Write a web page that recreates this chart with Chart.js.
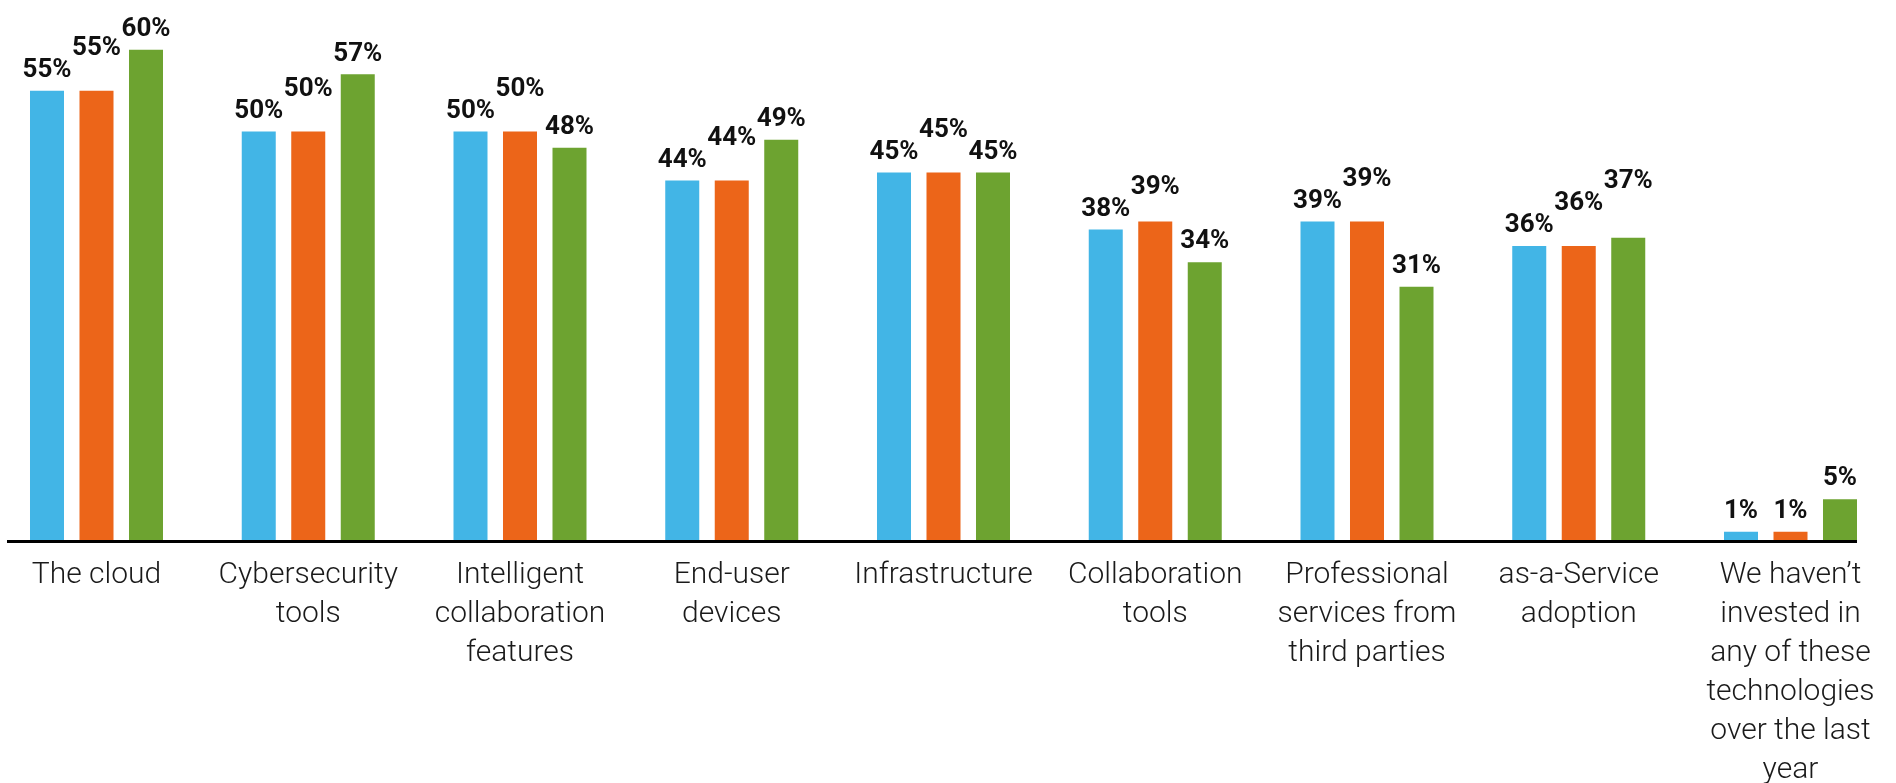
<!DOCTYPE html>
<html>
<head>
<meta charset="utf-8">
<script src="https://cdn.jsdelivr.net/npm/chart.js@4.4.1/dist/chart.umd.min.js"></script>
<style>
html,body{margin:0;padding:0;background:#ffffff;}
#wrap{width:1896px;height:783px;position:relative;}
</style>
</head>
<body>
<div id="wrap"><canvas id="chart"></canvas></div>
<script>
// ---- data ----
const categories = [
  "The cloud",
  ["Cybersecurity", "tools"],
  ["Intelligent", "collaboration", "features"],
  ["End-user", "devices"],
  "Infrastructure",
  ["Collaboration", "tools"],
  ["Professional", "services from", "third parties"],
  ["as-a-Service", "adoption"],
  ["We haven\u2019t", "invested in", "any of these", "technologies", "over the last", "year"]
];
const seriesNames = ["Series 1", "Series 2", "Series 3"];
const series1 = [55, 50, 50, 44, 45, 38, 39, 36, 1];
const series2 = [55, 50, 50, 44, 45, 39, 39, 36, 1];
const series3 = [60, 57, 48, 49, 45, 34, 31, 37, 5];
const valueSuffix = "%";

// ---- styles ----
const colors = ["#42B5E6", "#EC6519", "#6DA330"];
const FONT = "Roboto, 'Noto Sans', sans-serif";

const axisLinePlugin = {
  id: "axisLine",
  afterDatasetsDraw(chart) {
    const ctx = chart.ctx;
    const first = chart.getDatasetMeta(0).data[0];
    const lastMeta = chart.getDatasetMeta(chart.data.datasets.length - 1);
    const last = lastMeta.data[lastMeta.data.length - 1];
    const y0 = chart.scales.y.getPixelForValue(0);
    const x1 = first.x - first.width / 2 - 23;
    const x2 = last.x + last.width / 2;
    ctx.save();
    ctx.strokeStyle = "#000";
    ctx.lineWidth = 3;
    ctx.beginPath();
    ctx.moveTo(x1, y0 + 1.5);
    ctx.lineTo(x2, y0 + 1.5);
    ctx.stroke();
    ctx.restore();
  }
};

const barLabelPlugin = {
  id: "barLabels",
  afterDatasetsDraw(chart) {
    const ctx = chart.ctx;
    ctx.save();
    ctx.font = "bold 26px " + FONT;
    ctx.fillStyle = "#111";
    ctx.textAlign = "center";
    ctx.textBaseline = "alphabetic";
    const n = chart.data.labels.length;
    for (let i = 0; i < n; i++) {
      const placed = [];
      chart.data.datasets.forEach((ds, di) => {
        const bar = chart.getDatasetMeta(di).data[i];
        const text = ds.data[i] + valueSuffix;
        const w = ctx.measureText(text).width;
        let y = bar.y - 23;
        let moved = true;
        let guard = 0;
        while (moved && guard++ < 10) {
          moved = false;
          for (const p of placed) {
            if (Math.abs(p.x - bar.x) < (p.w + w) / 2 + 4 && Math.abs(p.y - y) < 18) {
              y = p.y - 22;
              moved = true;
            }
          }
        }
        placed.push({ x: bar.x, y: y, w: w });
        ctx.fillText(text, bar.x, y + 9.2);
      });
    }
    ctx.restore();
  }
};

const seriesData = [series1, series2, series3];

new Chart(document.getElementById("chart"), {
  type: "bar",
  data: {
    labels: categories,
    datasets: seriesData.map((d, k) => ({
      label: seriesNames[k],
      data: d,
      backgroundColor: colors[k],
      borderWidth: 0,
      categoryPercentage: 0.7013,
      barPercentage: 0.687,
      clip: false
    }))
  },
  options: {
    responsive: true,
    maintainAspectRatio: false,
    animation: false,
    layout: { padding: { left: 96.5, right: 105.5, top: 0, bottom: 0 } },
    plugins: {
      legend: { display: false },
      tooltip: { enabled: false }
    },
    scales: {
      x: {
        offset: false,
        grid: { display: false, drawTicks: false },
        border: { display: false },
        ticks: {
          autoSkip: false,
          maxRotation: 0,
          minRotation: 0,
          padding: 16,
          color: "#1a1a1a",
          font: { family: FONT, size: 30, weight: 300, lineHeight: 1.3 }
        },
        afterFit(scale) { scale.height = 243; }
      },
      y: {
        display: false,
        min: 0,
        max: 66.1
      }
    }
  },
  plugins: [axisLinePlugin, barLabelPlugin]
});
</script>
</body>
</html>
